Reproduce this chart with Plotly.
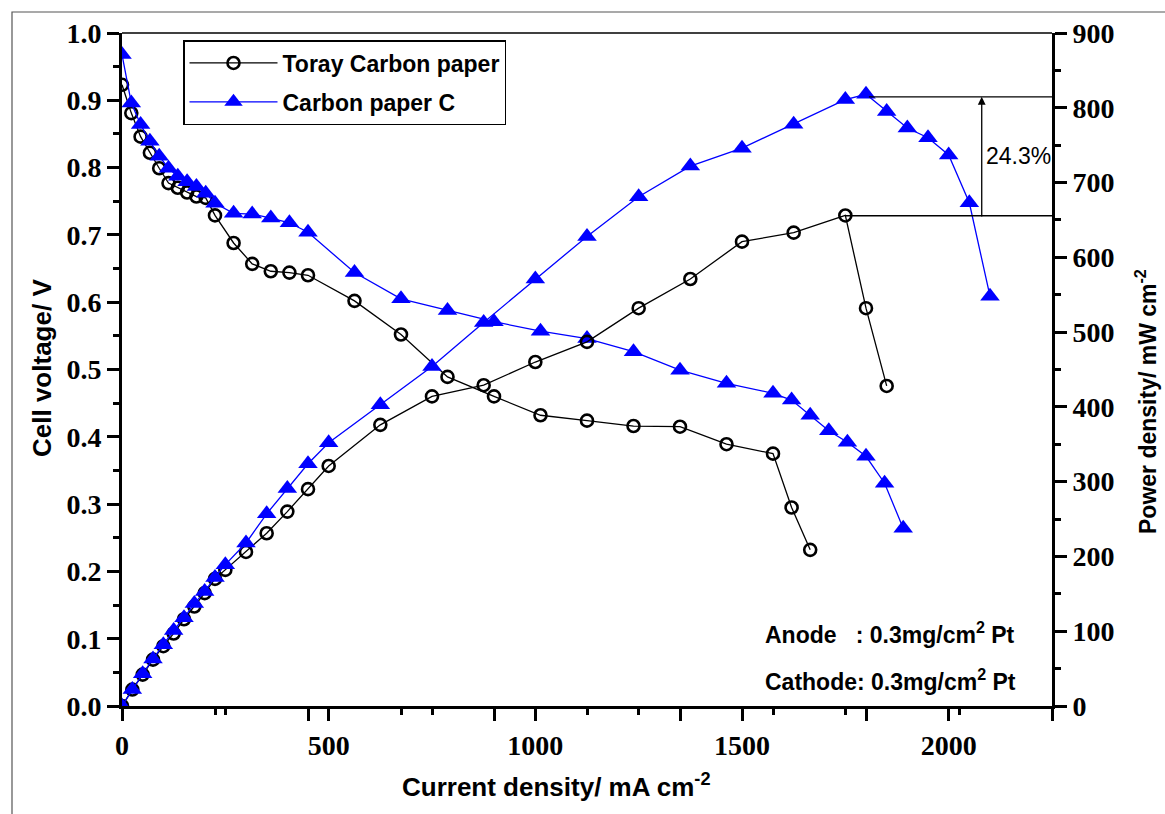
import plotly.graph_objects as go

# ---------------- data ----------------
# Toray Carbon paper
toray_i = [0, 25, 50, 75, 100, 125, 150, 175, 200, 225, 250,
           300, 350, 400, 450, 500,
           625, 750, 875, 1000, 1125, 1250, 1375, 1500, 1625, 1750,
           1800, 1850]
toray_v = [0.923, 0.881, 0.846, 0.822, 0.799, 0.777, 0.770, 0.763, 0.757, 0.755, 0.729,
           0.688, 0.657, 0.646, 0.644, 0.640,
           0.602, 0.552, 0.489, 0.460, 0.432, 0.424, 0.416, 0.415, 0.389, 0.375,
           0.295, 0.232]
toray_p = [0, 22, 42, 62, 80, 97, 116, 133, 151, 170, 182,
           206, 231, 260, 290, 321,
           376, 414, 429, 460, 487, 532, 571, 621, 633, 656,
           532, 428]

# Carbon paper C
cpc_i = [0, 25, 50, 75, 100, 125, 150, 175, 200, 225, 250,
         300, 350, 400, 450, 500,
         625, 750, 875, 1000, 1125, 1250, 1375, 1500, 1625, 1750,
         1800, 1850, 1900, 1950, 2000, 2050, 2100]
cpc_v = [0.968, 0.896, 0.864, 0.839, 0.817, 0.799, 0.787, 0.779, 0.772, 0.762, 0.747,
         0.732, 0.731, 0.725, 0.718, 0.704,
         0.644, 0.605, 0.5875, 0.571, 0.557, 0.546, 0.5265, 0.499, 0.4795, 0.4646,
         0.4546, 0.432, 0.409, 0.392, 0.371, 0.331, 0.264]
cpc_p = [0, 22, 43, 63, 82, 101, 118, 137, 153, 172, 189,
         218, 257, 291, 324, 352,
         403, 454, 513, 571, 628, 681, 722, 746, 778, 811,
         818, 795, 773, 760, 737, 673, 548]

series_names = ["Toray Carbon paper", "Carbon paper C"]
peak_c = 814.6        # peak power of Carbon paper C
peak_toray = 655.6    # peak power of Toray
gain_label = "24.3%"

# ---------------- figure ----------------
W, H = 1165, 814
L, R, T, B = 122, 1052, 33, 706

black_line = dict(color="black", width=1.3)
blue_line = dict(color="#0000ff", width=1.3)
circ = dict(symbol="circle-open", size=12, color="black", line=dict(width=2.6, color="black"))
tri = dict(symbol="triangle-up", size=17, color="#0000ff", line=dict(width=0))

fig = go.Figure()
# voltage curves: x / y (current axis of the voltage layer, 0-2500)
fig.add_trace(go.Scatter(x=toray_i, y=toray_v, mode="lines+markers", name=series_names[0],
                         line=black_line, marker=circ, xaxis="x", yaxis="y",
                         legendgroup="a", showlegend=True))
fig.add_trace(go.Scatter(x=cpc_i, y=cpc_v, mode="lines+markers", name=series_names[1],
                         line=blue_line, marker=tri, xaxis="x", yaxis="y",
                         legendgroup="b", showlegend=True))
# power curves: x2 / y2 (labelled current axis, 0-2250)
fig.add_trace(go.Scatter(x=toray_i, y=toray_p, mode="lines+markers", name=series_names[0],
                         line=black_line, marker=circ, xaxis="x2", yaxis="y2",
                         legendgroup="a", showlegend=False))
fig.add_trace(go.Scatter(x=cpc_i, y=cpc_p, mode="lines+markers", name=series_names[1],
                         line=blue_line, marker=tri, xaxis="x2", yaxis="y2",
                         legendgroup="b", showlegend=False))

tickfont = dict(family="Liberation Serif", size=28, color="black", weight="bold")
minor_common = dict(ticks="outside", ticklen=6, tickwidth=2.5, tickcolor="black", showgrid=False)

fig.update_layout(
    width=W, height=H,
    margin=dict(l=L, r=W - R, t=T, b=H - B, pad=0),
    paper_bgcolor="white", plot_bgcolor="white",
    xaxis=dict(range=[0, 2500], dtick=500, tick0=0, showgrid=False, zeroline=False,
               showline=True, linecolor="black", linewidth=3, ticks="outside",
               ticklen=12, tickwidth=2.5, tickcolor="black", showticklabels=False,
               minor=dict(dtick=250, **minor_common), anchor="y", side="bottom"),
    xaxis2=dict(range=[0, 2250], dtick=500, tick0=0, showgrid=False, zeroline=False,
                showline=True, linecolor="black", linewidth=3, ticks="outside",
                ticklen=12, tickwidth=2.5, tickcolor="black", tickfont=tickfont,
                overlaying="x", anchor="y2", side="bottom",
                minor=dict(dtick=250, **minor_common)),
    yaxis=dict(range=[0, 1.0], dtick=0.1, tick0=0, tickformat=".1f", showgrid=False,
               zeroline=False, showline=True, linecolor="black", linewidth=3,
               ticks="outside", ticklen=12, tickwidth=2.5, tickcolor="black",
               tickfont=tickfont, minor=dict(dtick=0.05, **minor_common), anchor="x"),
    yaxis2=dict(range=[0, 900], dtick=100, tick0=0, showgrid=False, zeroline=False,
                showline=True, linecolor="black", linewidth=3, ticks="outside",
                ticklen=12, tickwidth=2.5, tickcolor="black", tickfont=tickfont,
                side="right", overlaying="y", anchor="x2",
                minor=dict(dtick=50, **minor_common)),
    legend=dict(x=(183 - L) / (R - L), y=(B - 40) / (B - T), xanchor="left", yanchor="top",
                bgcolor="white", bordercolor="black", borderwidth=1.5,
                font=dict(family="Liberation Sans", size=23, color="black", weight="bold"),
                itemwidth=88, tracegroupgap=6),
    showlegend=True,
)

# figure frame and thin top axis line
fig.add_shape(type="rect", xref="paper", yref="paper",
              x0=(12 - L) / (R - L), x1=(1180 - L) / (R - L),
              y0=(B - 830) / (B - T), y1=(B - 12) / (B - T),
              line=dict(color="#555555", width=1.2), fillcolor="rgba(0,0,0,0)", layer="below")
fig.add_shape(type="line", xref="paper", yref="paper", x0=0, x1=1, y0=1, y1=1,
              line=dict(color="black", width=1.5))

# peak reference lines and arrow
fig.add_shape(type="line", xref="x2", yref="y2", x0=1807, x1=2250, y0=peak_c, y1=peak_c,
              line=dict(color="black", width=1.3))
fig.add_shape(type="line", xref="x2", yref="y2", x0=1751, x1=2250, y0=peak_toray, y1=peak_toray,
              line=dict(color="black", width=1.3))
fig.add_annotation(xref="x2", yref="y2", x=2080, y=peak_c, axref="x2", ayref="y2",
                   ax=2080, ay=peak_toray - 3, text="", showarrow=True, arrowhead=2,
                   arrowsize=1.2, arrowwidth=1.3, arrowcolor="black", standoff=0)
fig.add_annotation(xref="x2", yref="y2", x=2085, y=735, text=gain_label, showarrow=False,
                   xanchor="left", font=dict(family="Liberation Sans", size=23, color="black"))

# catalyst loading notes
note_font = dict(family="Liberation Sans", size=23, color="black", weight="bold")
fig.add_annotation(xref="paper", yref="paper", x=(763 - L) / (R - L), y=(B - 633) / (B - T),
                   xanchor="left", yanchor="middle", showarrow=False, font=note_font,
                   text="Anode\u00a0\u00a0\u00a0: 0.3mg/cm<sup>2</sup> Pt")
fig.add_annotation(xref="paper", yref="paper", x=(763 - L) / (R - L), y=(B - 680) / (B - T),
                   xanchor="left", yanchor="middle", showarrow=False, font=note_font,
                   text="Cathode: 0.3mg/cm<sup>2</sup> Pt")

# axis titles
title_font = dict(family="Liberation Sans", size=26, color="black", weight="bold")
fig.add_annotation(xref="paper", yref="paper", x=(556 - L) / (R - L), y=(B - 785) / (B - T),
                   xanchor="center", yanchor="middle", showarrow=False, font=title_font,
                   text="Current density/ mA cm<sup>-2</sup>")
fig.add_annotation(xref="paper", yref="paper", x=(42 - L) / (R - L), y=(B - 368) / (B - T),
                   xanchor="center", yanchor="middle", showarrow=False, font=title_font,
                   textangle=-90, text="Cell voltage/ V")
fig.add_annotation(xref="paper", yref="paper", x=(1146 - L) / (R - L), y=(B - 402) / (B - T),
                   xanchor="center", yanchor="middle", showarrow=False,
                   font=dict(family="Liberation Sans", size=23, color="black", weight="bold"),
                   textangle=-90, text="Power density/ mW cm<sup>-2</sup>")

fig.write_html("out.html")
